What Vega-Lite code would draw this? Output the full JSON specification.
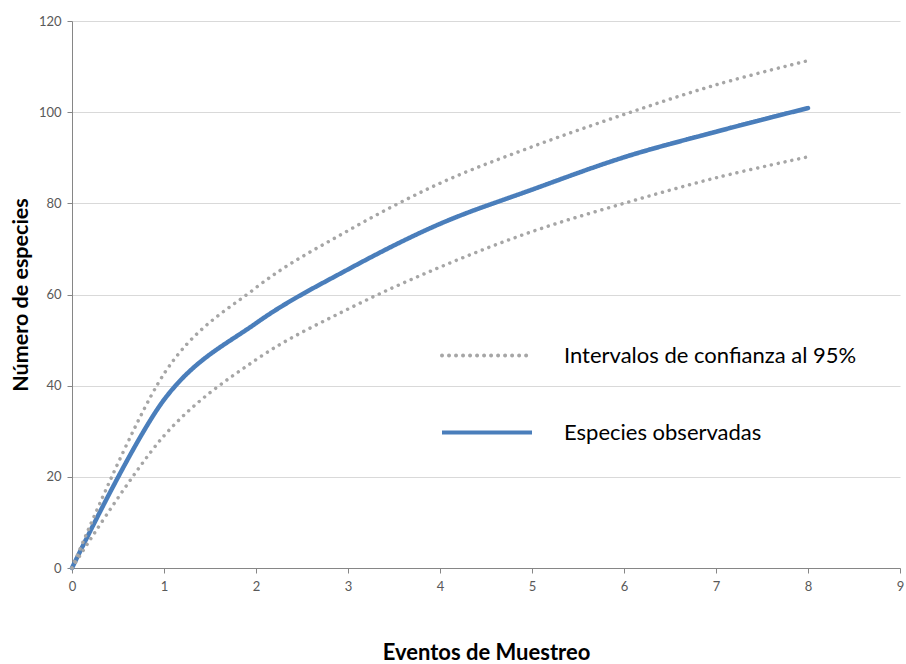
{
  "$schema": "https://vega.github.io/schema/vega-lite/v6.json",
  "width": 828,
  "height": 547,
  "autosize": {"type": "none"},
  "padding": {"left": 72, "top": 21, "right": 6, "bottom": 96},
  "background": "white",
  "config": {
    "view": {"stroke": null},
    "font": "Lato",
    "axis": {
      "domainColor": "#868686",
      "tickColor": "#868686",
      "tickSize": 5,
      "labelColor": "#595959",
      "labelFont": "Lato",
      "labelFontSize": 13,
      "labelFlush": false,
      "titleFont": "Lato",
      "titleFontSize": 21.5,
      "titleFontWeight": "bold",
      "titleColor": "#000000",
      "gridColor": "#D9D9D9"
    }
  },
  "data": {
    "values": [
      {"eventos": 0, "especies": 0, "curva": "observada", "serie": "Especies observadas"},
      {"eventos": 1, "especies": 36.9, "curva": "observada", "serie": "Especies observadas"},
      {"eventos": 2, "especies": 53.7, "curva": "observada", "serie": "Especies observadas"},
      {"eventos": 3, "especies": 65.5, "curva": "observada", "serie": "Especies observadas"},
      {"eventos": 4, "especies": 75.5, "curva": "observada", "serie": "Especies observadas"},
      {"eventos": 5, "especies": 83.0, "curva": "observada", "serie": "Especies observadas"},
      {"eventos": 6, "especies": 90.1, "curva": "observada", "serie": "Especies observadas"},
      {"eventos": 7, "especies": 95.7, "curva": "observada", "serie": "Especies observadas"},
      {"eventos": 8, "especies": 100.9, "curva": "observada", "serie": "Especies observadas"},
      {"eventos": 0, "especies": 0, "curva": "superior", "serie": "Intervalos de confianza al 95%"},
      {"eventos": 1, "especies": 42.6, "curva": "superior", "serie": "Intervalos de confianza al 95%"},
      {"eventos": 2, "especies": 61.5, "curva": "superior", "serie": "Intervalos de confianza al 95%"},
      {"eventos": 3, "especies": 74.0, "curva": "superior", "serie": "Intervalos de confianza al 95%"},
      {"eventos": 4, "especies": 84.4, "curva": "superior", "serie": "Intervalos de confianza al 95%"},
      {"eventos": 5, "especies": 92.4, "curva": "superior", "serie": "Intervalos de confianza al 95%"},
      {"eventos": 6, "especies": 99.5, "curva": "superior", "serie": "Intervalos de confianza al 95%"},
      {"eventos": 7, "especies": 106.0, "curva": "superior", "serie": "Intervalos de confianza al 95%"},
      {"eventos": 8, "especies": 111.3, "curva": "superior", "serie": "Intervalos de confianza al 95%"},
      {"eventos": 0, "especies": 0, "curva": "inferior", "serie": "Intervalos de confianza al 95%"},
      {"eventos": 1, "especies": 29.0, "curva": "inferior", "serie": "Intervalos de confianza al 95%"},
      {"eventos": 2, "especies": 45.7, "curva": "inferior", "serie": "Intervalos de confianza al 95%"},
      {"eventos": 3, "especies": 56.8, "curva": "inferior", "serie": "Intervalos de confianza al 95%"},
      {"eventos": 4, "especies": 66.0, "curva": "inferior", "serie": "Intervalos de confianza al 95%"},
      {"eventos": 5, "especies": 73.8, "curva": "inferior", "serie": "Intervalos de confianza al 95%"},
      {"eventos": 6, "especies": 80.0, "curva": "inferior", "serie": "Intervalos de confianza al 95%"},
      {"eventos": 7, "especies": 85.6, "curva": "inferior", "serie": "Intervalos de confianza al 95%"},
      {"eventos": 8, "especies": 90.2, "curva": "inferior", "serie": "Intervalos de confianza al 95%"}
    ]
  },
  "encoding": {
    "x": {
      "field": "eventos",
      "type": "quantitative",
      "scale": {"domain": [0, 9], "nice": false},
      "axis": {
        "values": [0, 1, 2, 3, 4, 5, 6, 7, 8, 9],
        "grid": false,
        "labelPadding": 7,
        "title": "Eventos de Muestreo",
        "titleFontSize": 22,
        "titlePadding": 49
      }
    },
    "y": {
      "field": "especies",
      "type": "quantitative",
      "scale": {"domain": [0, 120], "nice": false},
      "axis": {
        "values": [0, 20, 40, 60, 80, 100, 120],
        "grid": true,
        "labelPadding": 6,
        "title": "Número de especies",
        "titlePadding": 6
      }
    },
    "color": {
      "field": "serie",
      "type": "nominal",
      "scale": {
        "domain": ["Intervalos de confianza al 95%", "Especies observadas"],
        "range": ["#A6A6A6", "#4A7EBB"]
      },
      "legend": {
        "orient": "none",
        "legendX": 368,
        "legendY": 296,
        "title": null,
        "padding": 0,
        "symbolType": "stroke",
        "symbolSize": 8100,
        "symbolStrokeWidth": 4,
        "clipHeight": 77,
        "rowPadding": 0,
        "labelFont": "Lato",
        "labelFontSize": 22,
        "labelColor": "#000000",
        "labelOffset": 30,
        "labelLimit": 400,
        "encode": {
          "symbols": {
            "update": {
              "strokeCap": [
                {"test": "datum.value === 'Intervalos de confianza al 95%'", "value": "round"},
                {"value": "butt"}
              ]
            }
          }
        }
      }
    },
    "strokeDash": {
      "field": "serie",
      "type": "nominal",
      "scale": {
        "domain": ["Intervalos de confianza al 95%", "Especies observadas"],
        "range": [[0.01, 7], [1, 0]]
      },
      "legend": {
        "orient": "none",
        "legendX": 368,
        "legendY": 296,
        "title": null
      }
    },
    "detail": {"field": "curva", "type": "nominal"}
  },
  "layer": [
    {
      "transform": [{"filter": "datum.curva === 'observada'"}],
      "mark": {"type": "line", "interpolate": "cardinal", "strokeWidth": 4.5, "strokeCap": "round"}
    },
    {
      "transform": [{"filter": "datum.curva !== 'observada'"}],
      "mark": {"type": "line", "interpolate": "cardinal", "strokeWidth": 3.5, "strokeCap": "round"}
    }
  ]
}
